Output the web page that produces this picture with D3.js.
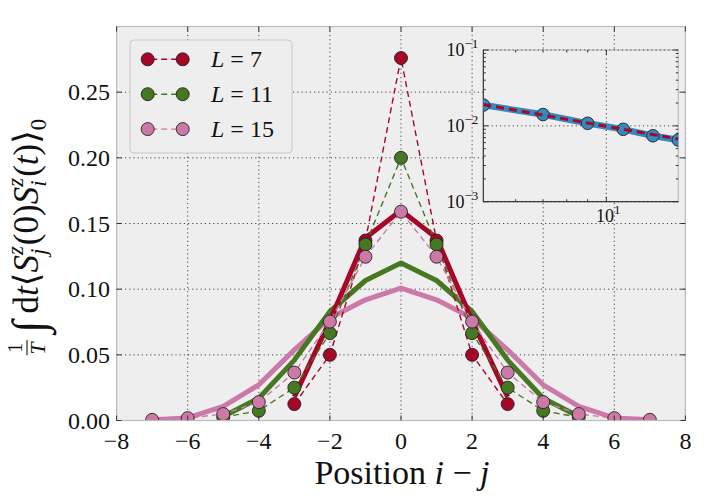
<!DOCTYPE html>
<html>
<head>
<meta charset="utf-8">
<script src="https://cdn.jsdelivr.net/npm/d3@7"></script>
<style>
  body { margin: 0; background: #fff; }
  svg text { font-family: "Liberation Serif", "DejaVu Serif", serif; fill: #111; }
</style>
</head>
<body>
<div id="chart"></div>
<script>
// data
var sitesL7 = [-3, -2, -1, 0, 1, 2, 3];
var sitesL11 = [-5, -4, -3, -2, -1, 0, 1, 2, 3, 4, 5];
var sitesL15 = [-7, -6, -5, -4, -3, -2, -1, 0, 1, 2, 3, 4, 5, 6, 7];

var simL7 = [0.0125, 0.050, 0.137, 0.276, 0.137, 0.050, 0.0125];
var simL11 = [0.0025, 0.0074, 0.025, 0.0665, 0.134, 0.200, 0.134, 0.0665, 0.025, 0.0074, 0.0025];
var simL15 = [0.0005, 0.0018, 0.0049, 0.014, 0.0365, 0.0753, 0.1247, 0.159,
              0.1247, 0.0753, 0.0365, 0.014, 0.0049, 0.0018, 0.0005];

var theoryL7 = [0.018, 0.076, 0.139, 0.160, 0.139, 0.076, 0.018];
var theoryL11 = [0.003, 0.017, 0.046, 0.083, 0.1066, 0.120, 0.1066, 0.083, 0.046, 0.017, 0.003];
var theoryL15 = [0.0006, 0.002, 0.0107, 0.0272, 0.0538, 0.078, 0.0919, 0.1008,
                 0.0919, 0.078, 0.0538, 0.0272, 0.0107, 0.002, 0.0006];

var legendL = ["7", "11", "15"];
var xTicks = [-8, -6, -4, -2, 0, 2, 4, 6, 8];
var yTicks = [0, 0.05, 0.10, 0.15, 0.20, 0.25];

var insetL = [5, 7, 9, 11, 13, 15];
var insetVal = [0.0188, 0.0141, 0.0108, 0.0090, 0.0074, 0.0065];
var fitL = [5, 15];
var fitVal = [0.0191, 0.0067];
var insetYTicks = [1e-3, 1e-2, 1e-1];
var insetYExp = ["\u22123", "\u22122", "\u22121"];

var red = "#A60628", green = "#467821", pink = "#CC79A7", blue = "#348ABD";

var svgWidth = 706;
var svgHeight = 504;
var margin = { top: 26.5, left: 116.6, right: 20.6, bottom: 83.5 };
var width = svgWidth - margin.left - margin.right;
var height = svgHeight - margin.top - margin.bottom;

var svg = d3.select("#chart").append("svg")
  .attr("width", svgWidth)
  .attr("height", svgHeight);

var defs = svg.append("defs");
defs.append("clipPath").attr("id", "mainclip")
  .append("rect").attr("width", width).attr("height", height);

var chartGroup = svg.append("g")
  .attr("transform", `translate(${margin.left}, ${margin.top})`);

var x = d3.scaleLinear().domain([-8, 8]).range([0, width]);
var y = d3.scaleLinear().domain([0, 0.3]).range([height, 0]);

chartGroup.append("rect")
  .attr("width", width).attr("height", height)
  .attr("fill", "#eeeeee");

// grid
chartGroup.selectAll(".vgrid").data(xTicks).enter().append("line")
  .attr("x1", d => x(d)).attr("x2", d => x(d))
  .attr("y1", 0).attr("y2", height)
  .attr("stroke", "#444").attr("stroke-width", 1)
  .attr("stroke-dasharray", "1.2,3");
chartGroup.selectAll(".hgrid").data(yTicks).enter().append("line")
  .attr("y1", d => y(d)).attr("y2", d => y(d))
  .attr("x1", 0).attr("x2", width)
  .attr("stroke", "#444").attr("stroke-width", 1)
  .attr("stroke-dasharray", "1.2,3");

var plot = chartGroup.append("g").attr("clip-path", "url(#mainclip)");

var line = d3.line().x(d => x(d[0])).y(d => y(d[1]));
function zipPts(xs, vs) { return xs.map((s, i) => [s, vs[i]]); }

// thick theory curves
[[sitesL15, theoryL15, pink], [sitesL11, theoryL11, green], [sitesL7, theoryL7, red]]
  .forEach(function (s) {
    plot.append("path")
      .attr("d", line(zipPts(s[0], s[1])))
      .attr("fill", "none")
      .attr("stroke", s[2])
      .attr("stroke-width", 5)
      .attr("stroke-linejoin", "round");
  });

// dashed data with markers
[[sitesL7, simL7, red], [sitesL11, simL11, green], [sitesL15, simL15, pink]]
  .forEach(function (s) {
    var pts = zipPts(s[0], s[1]);
    plot.append("path")
      .attr("d", line(pts))
      .attr("fill", "none")
      .attr("stroke", s[2])
      .attr("stroke-width", 1.4)
      .attr("stroke-dasharray", "6,4");
    plot.selectAll(null).data(pts).enter().append("circle")
      .attr("cx", d => x(d[0]))
      .attr("cy", d => y(d[1]))
      .attr("r", 6.5)
      .attr("fill", s[2])
      .attr("stroke", "#222")
      .attr("stroke-width", 0.9);
  });

// spines
chartGroup.append("rect")
  .attr("width", width).attr("height", height)
  .attr("fill", "none").attr("stroke", "#bcbcbc").attr("stroke-width", 1.2);

// inward ticks on all sides
xTicks.forEach(function (t) {
  chartGroup.append("line").attr("x1", x(t)).attr("x2", x(t))
    .attr("y1", height).attr("y2", height - 5).attr("stroke", "#333");
  chartGroup.append("line").attr("x1", x(t)).attr("x2", x(t))
    .attr("y1", 0).attr("y2", 5).attr("stroke", "#333");
});
yTicks.forEach(function (t) {
  chartGroup.append("line").attr("x1", 0).attr("x2", 5)
    .attr("y1", y(t)).attr("y2", y(t)).attr("stroke", "#333");
  chartGroup.append("line").attr("x1", width).attr("x2", width - 5)
    .attr("y1", y(t)).attr("y2", y(t)).attr("stroke", "#333");
});

// tick labels
chartGroup.selectAll(".xlab").data(xTicks).enter().append("text")
  .attr("x", d => x(d))
  .attr("y", height + 28)
  .attr("text-anchor", "middle")
  .attr("font-size", "24px")
  .text(d => d < 0 ? "\u2212" + Math.abs(d) : d);
chartGroup.selectAll(".ylab").data(yTicks).enter().append("text")
  .attr("x", -6.5)
  .attr("y", d => y(d) + 8)
  .attr("text-anchor", "end")
  .attr("font-size", "24px")
  .text(d => d.toFixed(2));

// x label
var xl = chartGroup.append("text")
  .attr("x", width / 2 + 1)
  .attr("y", height + 63)
  .attr("text-anchor", "middle")
  .attr("font-size", "34px");
xl.append("tspan").text("Position ");
xl.append("tspan").attr("font-style", "italic").text("i");
xl.append("tspan").text(" \u2212 ");
xl.append("tspan").attr("font-style", "italic").text("j");

// y label, laid out piece by piece in a rotated group
var yl = svg.append("g");
var yin = yl.append("g");
var cur = 0;
function piece(txt, size, dy, italic) {
  var t = yin.append("text").attr("x", cur).attr("y", dy)
    .attr("font-size", size + "px")
    .attr("font-style", italic ? "italic" : "normal")
    .text(txt);
  var w = t.node().getComputedTextLength();
  cur += w;
  return w;
}
function stack(sup, sub) {
  var start = cur;
  var w1 = piece(sup, 23, -15, true);
  cur = start;
  var w2 = piece(sub, 23, 8, true);
  cur = start + Math.max(w1, w2) + 1;
}
// fraction 1/T
(function () {
  var start = cur;
  var n = yin.append("text").attr("y", -16).attr("font-size", "20px").text("1");
  var dd = yin.append("text").attr("y", 7).attr("font-size", "22px")
    .attr("font-style", "italic").text("T");
  var wn = n.node().getComputedTextLength(), wd = dd.node().getComputedTextLength();
  var w = Math.max(wn, wd) + 3;
  n.attr("x", start + (w - wn) / 2);
  dd.attr("x", start + (w - wd) / 2 - 1);
  yin.append("line").attr("x1", start).attr("x2", start + w)
    .attr("y1", -11).attr("y2", -11).attr("stroke", "#111").attr("stroke-width", 1.1);
  cur = start + w + 7;
})();
piece("\u222B", 46, 6, true);
cur += 7;
piece("d", 35, 0, false);
piece("t", 35, 0, true);
piece("\u27E8", 35, 0, false);
piece("S", 35, 0, true);
stack("z", "j");
piece("(0)", 35, 0, false);
piece("S", 35, 0, true);
stack("z", "i");
piece("(", 35, 0, false);
piece("t", 35, 0, true);
piece(")", 35, 0, false);
piece("\u27E9", 35, 0, false);
piece("0", 23, 8, false);
yin.attr("transform", `translate(${-cur / 2}, 0)`);
yl.attr("transform", "translate(38, 237) rotate(-90)");

// legend
var legend = chartGroup.append("g")
  .attr("transform", `translate(${130 - margin.left}, ${40 - margin.top})`);
legend.append("rect")
  .attr("width", 162).attr("height", 113).attr("rx", 4)
  .attr("fill", "#eeeeee").attr("stroke", "#c8c8c8").attr("stroke-width", 1);
[red, green, pink].forEach(function (c, i) {
  var ry = 19.3 + i * 34.9;
  legend.append("line").attr("x1", 17.7).attr("x2", 52.7)
    .attr("y1", ry).attr("y2", ry)
    .attr("stroke", c).attr("stroke-width", 1.4)
    .attr("stroke-dasharray", "6,4").attr("stroke-dashoffset", -3.5);
  [17.7, 52.7].forEach(function (cx) {
    legend.append("circle").attr("cx", cx).attr("cy", ry).attr("r", 6.5)
      .attr("fill", c).attr("stroke", "#222").attr("stroke-width", 0.9);
  });
  var lt = legend.append("text").attr("x", 81).attr("y", ry + 8).attr("font-size", "24px");
  lt.append("tspan").attr("font-style", "italic").text("L");
  lt.append("tspan").text(" = " + legendL[i]);
});

// inset
var ins = { left: 483.3, top: 50, width: 195, height: 151.7 };
defs.append("clipPath").attr("id", "insclip")
  .append("rect").attr("width", ins.width).attr("height", ins.height);
var inset = svg.append("g")
  .attr("transform", `translate(${ins.left}, ${ins.top})`);
var ix = d3.scaleLog().domain([5, 15]).range([0, ins.width]);
var iy = d3.scaleLog().domain([1e-3, 1e-1]).range([ins.height, 0]);

inset.append("rect").attr("width", ins.width).attr("height", ins.height)
  .attr("fill", "#eeeeee").attr("stroke", "#bcbcbc").attr("stroke-width", 1.2);
insetYTicks.forEach(function (t) {
  inset.append("line").attr("x1", 0).attr("x2", ins.width)
    .attr("y1", iy(t)).attr("y2", iy(t))
    .attr("stroke", "#444").attr("stroke-dasharray", "1.2,3");
});
inset.append("line").attr("x1", ix(10)).attr("x2", ix(10))
  .attr("y1", 0).attr("y2", ins.height)
  .attr("stroke", "#444").attr("stroke-dasharray", "1.2,3");
inset.append("line").attr("x1", 0).attr("x2", 0).attr("y1", 0).attr("y2", ins.height)
  .attr("stroke", "#222").attr("stroke-width", 1);
inset.append("line").attr("x1", 0).attr("x2", ins.width).attr("y1", ins.height).attr("y2", ins.height)
  .attr("stroke", "#222").attr("stroke-width", 1);

// inset ticks
var iminorY = [];
[1e-3, 1e-2].forEach(function (dec) {
  for (var k = 2; k <= 9; k++) iminorY.push(dec * k);
});
iminorY.forEach(function (t) {
  inset.append("line").attr("x1", 0).attr("x2", 2.5).attr("y1", iy(t)).attr("y2", iy(t)).attr("stroke", "#333");
  inset.append("line").attr("x1", ins.width).attr("x2", ins.width - 2.5).attr("y1", iy(t)).attr("y2", iy(t)).attr("stroke", "#333");
});
insetYTicks.forEach(function (t) {
  inset.append("line").attr("x1", 0).attr("x2", 5).attr("y1", iy(t)).attr("y2", iy(t)).attr("stroke", "#333");
  inset.append("line").attr("x1", ins.width).attr("x2", ins.width - 5).attr("y1", iy(t)).attr("y2", iy(t)).attr("stroke", "#333");
});
[6, 7, 8, 9].forEach(function (t) {
  inset.append("line").attr("x1", ix(t)).attr("x2", ix(t)).attr("y1", ins.height).attr("y2", ins.height - 2.5).attr("stroke", "#333");
  inset.append("line").attr("x1", ix(t)).attr("x2", ix(t)).attr("y1", 0).attr("y2", 2.5).attr("stroke", "#333");
});
inset.append("line").attr("x1", ix(10)).attr("x2", ix(10)).attr("y1", ins.height).attr("y2", ins.height - 5).attr("stroke", "#333");
inset.append("line").attr("x1", ix(10)).attr("x2", ix(10)).attr("y1", 0).attr("y2", 5).attr("stroke", "#333");

insetYTicks.forEach(function (t, i) {
  var lt = inset.append("text").attr("x", -5).attr("y", iy(t) + 6)
    .attr("text-anchor", "end").attr("font-size", "18px");
  lt.append("tspan").text("10");
  lt.append("tspan").attr("font-size", "13px").attr("dy", -8).text(insetYExp[i]);
});
var xt = inset.append("text").attr("x", ix(10) + 2).attr("y", ins.height + 20)
  .attr("text-anchor", "middle").attr("font-size", "18px");
xt.append("tspan").text("10");
xt.append("tspan").attr("font-size", "13px").attr("dy", -8).text("1");

var iplot = inset.append("g").attr("clip-path", "url(#insclip)");
var iline = d3.line().x(d => ix(d[0])).y(d => iy(d[1]));
var ipts = zipPts(insetL, insetVal);
iplot.append("path").attr("d", iline(ipts))
  .attr("fill", "none").attr("stroke", blue).attr("stroke-width", 6.5);
iplot.selectAll(null).data(ipts).enter().append("circle")
  .attr("cx", d => ix(d[0])).attr("cy", d => iy(d[1])).attr("r", 6.3)
  .attr("fill", blue).attr("stroke", "#222").attr("stroke-width", 0.9);
iplot.append("path").attr("d", iline(zipPts(fitL, fitVal)))
  .attr("fill", "none").attr("stroke", red).attr("stroke-width", 3)
  .attr("stroke-dasharray", "8,5");
</script>
</body>
</html>
